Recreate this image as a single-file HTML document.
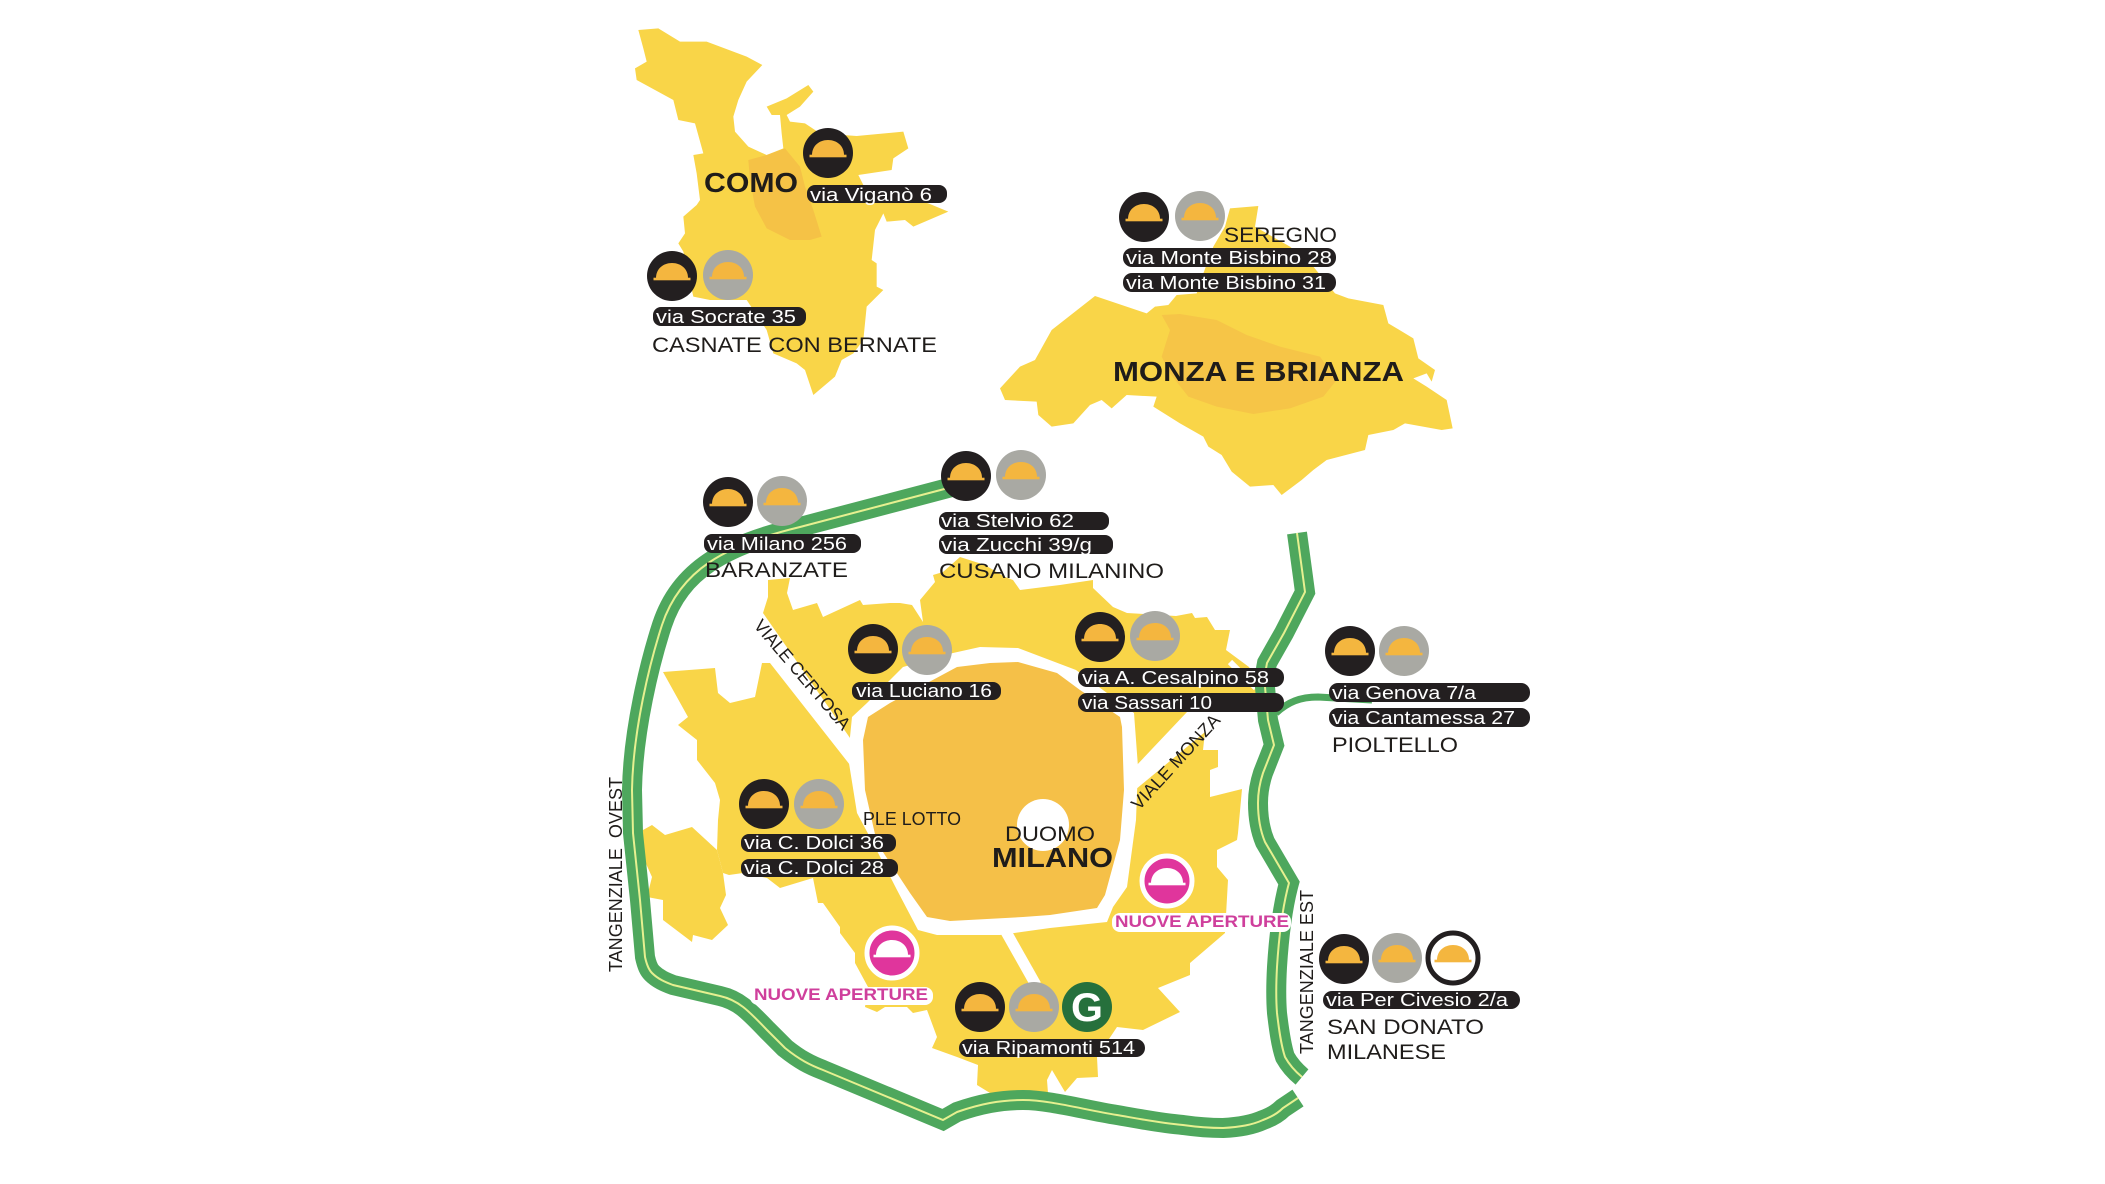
<!DOCTYPE html>
<html><head><meta charset="utf-8"><style>
html,body{margin:0;padding:0;background:#fff;width:2105px;height:1184px;overflow:hidden}
svg{display:block}
text{font-family:"Liberation Sans",sans-serif;fill:#1f1c1a}
.p{fill:#fff;font-size:18px}
.l{font-size:21px}
.b{font-size:28px;font-weight:bold}
.s{font-size:18px}
.n{font-size:17px;font-weight:bold;fill:#cf3f9c}
</style></head><body>
<svg width="2105" height="1184" viewBox="0 0 2105 1184" xmlns="http://www.w3.org/2000/svg">
<defs>
<g id="dome"><path d="M-16,2C-16,-7 -9,-13 0,-13C9,-13 16,-7 16,2Z"/><rect x="-18.5" y="1.7" width="37" height="2.6"/></g>
<g id="k"><circle r="25" fill="#231f20"/><use href="#dome" fill="#f4b63f"/></g>
<g id="g"><circle r="25" fill="#a9a9a3"/><use href="#dome" fill="#f4b63f"/></g>
<g id="m"><circle r="25" fill="#e0359c" stroke="#fff" stroke-width="5"/><use href="#dome" fill="#fff"/></g>
</defs>

<!-- Como -->
<g transform="translate(600,0) scale(.33333)">
<polygon fill="#f9d548" points="115,90 175,85 240,125 320,125 440,170 487,195 440,245 415,300 400,350 405,395 445,440 500,465 550,445 545,400 540,345 515,345 500,320 560,295 625,255 640,275 600,320 560,345 570,365 615,370 660,400 770,408 910,395 925,445 880,475 875,510 775,525 790,555 985,610 1045,635 940,680 915,660 860,665 850,640 825,690 815,780 830,790 830,860 850,870 800,920 790,1020 760,1060 725,1080 705,1130 640,1185 615,1110 590,1090 520,1060 500,990 440,900 330,900 280,890 250,755 235,730 255,700 250,650 290,615 300,600 290,520 280,465 310,460 285,370 235,360 220,300 110,240 105,205 140,185 130,145"/>
<polygon fill="#f5c246" points="445,480 500,465 555,445 600,500 615,560 640,630 665,710 630,720 570,720 500,685 465,620 450,540"/>
</g>

<!-- Monza -->
<g transform="translate(980,160) scale(.33333)">
<polygon fill="#f9d548" points="60,685 120,620 165,600 215,510 345,408 500,460 525,440 565,435 590,405 650,400 670,340 700,260 735,200 750,145 835,138 825,200 930,260 1000,320 1065,400 1105,415 1210,435 1225,490 1300,535 1315,595 1365,630 1355,665 1340,640 1300,655 1340,680 1400,720 1418,805 1385,810 1275,790 1240,810 1165,825 1155,870 1040,900 1000,930 965,960 905,1005 880,975 810,980 755,935 725,885 685,860 670,830 600,790 520,740 530,710 440,705 395,745 365,720 330,735 280,790 215,800 175,765 170,725 75,720"/>
<polygon fill="#f6c547" points="545,465 600,462 710,480 800,525 900,560 1020,590 1070,660 1030,710 930,745 820,762 710,740 625,710 570,640 545,590 570,510"/>
</g>

<!-- Milano yellow -->
<polygon fill="#f9d548" points="763,613 768,597 768,580 790,578 787,593 793,610 817,603 823,617 860,600 863,605 890,603 900,603 912,605 923,622 920,600 935,582 933,575 943,572 960,557 985,565 1005,577 1013,580 1020,590 1060,585 1093,580 1093,588 1113,607 1127,613 1176,616 1192,613 1195,618 1207,617 1215,630 1230,630 1226,650 1249,667 1262,690 1270,712 1187,712 1135,767 1136,790 1000,800 850,738"/>
<polygon fill="#f9d548" points="663,672 715,668 718,693 730,703 755,697 762,663 770,663 850,765 1000,800 1130,795 1135,790 1205,732 1203,750 1218,750 1218,767 1210,770 1210,797 1242,789 1238,833 1237,840 1217,850 1217,867 1228,880 1225,933 1190,963 1190,975 1158,988 1180,1012 1143,1030 1117,1027 1097,1057 1098,1077 1077,1078 1065,1092 1052,1070 1047,1080 1048,1093 990,1093 977,1085 978,1065 957,1057 932,1048 937,1037 927,1010 913,1013 907,1007 885,1007 877,1012 865,1007 868,987 855,963 855,953 840,933 840,927 823,903 818,903 813,878 780,888 767,878 743,873 729,875 723,873 717,850 718,820 720,800 715,783 697,760 697,740 678,725 688,717"/>
<polygon fill="#f9d548" points="643,830 652,825 665,835 692,827 717,850 723,873 726,895 720,908 728,925 712,940 693,935 692,942 663,920 663,900 647,897 652,877 643,857"/>

<!-- ring + city -->
<polygon fill="#fff" points="852,717 867,703 903,667 953,653 980,647 1018,648 1076,670 1134,713 1138,767 1136,820 1127,887 1113,907 1107,922 1050,928 1000,935 937,935 918,930 897,890 873,843 857,813 848,757"/>
<polygon fill="#f5c048" points="868,717 890,703 957,667 990,663 1018,662 1057,673 1080,690 1120,717 1122,727 1124,790 1120,840 1105,895 1097,908 1050,915 1023,917 950,921 927,917 910,893 877,843 865,790 863,740"/>
<circle cx="1043" cy="825" r="26" fill="#fff"/>
<path d="M1005,930L1036,985" stroke="#fff" stroke-width="11" fill="none"/>
<path d="M1230,662L1256,688" stroke="#fff" stroke-width="6" fill="none"/>

<!-- highway -->
<g fill="none">
<path d="M1276,713C1288,702 1300,697 1318,697L1372,700" stroke="#4ea75d" stroke-width="7"/>
<path d="M952,487L800,527C725,545 680,570 662,625C650,662 633,730 632,790L633,833L640,900L645,957C647,966 649,970 652,973C658,979 665,982 673,985L720,996C738,1000 748,1010 767,1030L785,1048C800,1060 810,1065 823,1070L943,1120L957,1112C980,1104 1000,1100 1023,1100C1050,1100 1085,1110 1117,1115C1140,1119 1160,1123 1183,1125C1197,1127 1210,1128 1223,1128C1240,1127 1252,1125 1263,1120C1274,1116 1280,1111 1283,1108L1298,1098" stroke="#4ea75d" stroke-width="20"/>
<path d="M952,487L800,527C725,545 680,570 662,625C650,662 633,730 632,790L633,833L640,900L645,957C647,966 649,970 652,973C658,979 665,982 673,985L720,996C738,1000 748,1010 767,1030L785,1048C800,1060 810,1065 823,1070L943,1120L957,1112C980,1104 1000,1100 1023,1100C1050,1100 1085,1110 1117,1115C1140,1119 1160,1123 1183,1125C1197,1127 1210,1128 1223,1128C1240,1127 1252,1125 1263,1120C1274,1116 1280,1111 1283,1108L1298,1098" stroke="#e6f090" stroke-width="2"/>
<path d="M1297,533L1303,577L1305,592L1284,633L1267,663C1265,672 1265,680 1265,687L1268,720L1274,745L1263,773C1259,785 1258,795 1258,803C1258,815 1260,830 1265,842L1289,883C1283,905 1279,935 1277,967C1276,985 1276,1000 1277,1013C1279,1030 1281,1045 1285,1057C1290,1066 1296,1072 1302,1077" stroke="#4ea75d" stroke-width="20"/>
<path d="M1297,533L1303,577L1305,592L1284,633L1267,663C1265,672 1265,680 1265,687L1268,720L1274,745L1263,773C1259,785 1258,795 1258,803C1258,815 1260,830 1265,842L1289,883C1283,905 1279,935 1277,967C1276,985 1276,1000 1277,1013C1279,1030 1281,1045 1285,1057C1290,1066 1296,1072 1302,1077" stroke="#e6f090" stroke-width="2"/>
</g>

<!-- pills -->
<g fill="#231f20">
<rect x="807" y="185" width="140" height="18" rx="8"/>
<rect x="653" y="307" width="153" height="19" rx="8"/>
<rect x="1123" y="248" width="213" height="19" rx="9"/>
<rect x="1123" y="273" width="213" height="19" rx="9"/>
<rect x="939" y="512" width="170" height="18" rx="8"/>
<rect x="939" y="535" width="174" height="19" rx="8"/>
<rect x="704" y="534" width="157" height="19" rx="8"/>
<rect x="852" y="682" width="149" height="18" rx="8"/>
<rect x="1078" y="668" width="206" height="19" rx="9"/>
<rect x="1078" y="693" width="206" height="19" rx="9"/>
<rect x="1329" y="683" width="201" height="19" rx="9"/>
<rect x="1329" y="708" width="201" height="19" rx="9"/>
<rect x="741" y="834" width="155" height="18" rx="8"/>
<rect x="741" y="859" width="157" height="18" rx="8"/>
<rect x="959" y="1039" width="186" height="18" rx="9"/>
<rect x="1323" y="991" width="197" height="18" rx="9"/>
</g>
<rect x="750" y="987" width="183" height="18" rx="8" fill="#fff"/>
<rect x="1112" y="913" width="179" height="19" rx="8" fill="#fff"/>

<!-- icons -->
<use href="#k" x="828" y="153"/>
<use href="#k" x="672" y="276"/><use href="#g" x="728" y="275"/>
<use href="#k" x="1144" y="217"/><use href="#g" x="1200" y="216"/>
<use href="#k" x="966" y="476"/><use href="#g" x="1021" y="475"/>
<use href="#k" x="728" y="502"/><use href="#g" x="782" y="501"/>
<use href="#k" x="873" y="649"/><use href="#g" x="927" y="650"/>
<use href="#k" x="1100" y="637"/><use href="#g" x="1155" y="636"/>
<use href="#k" x="1350" y="651"/><use href="#g" x="1404" y="651"/>
<use href="#k" x="764" y="804"/><use href="#g" x="819" y="804"/>
<use href="#k" x="980" y="1007"/><use href="#g" x="1034" y="1007"/>
<circle cx="1087" cy="1007" r="25" fill="#26703c"/>
<text x="1071" y="1021" font-size="40" font-weight="bold" textLength="32" lengthAdjust="spacingAndGlyphs" style="fill:#fff">G</text>
<use href="#k" x="1344" y="959"/><use href="#g" x="1397" y="958"/>
<circle cx="1453" cy="958" r="25" fill="#fff" stroke="#231f20" stroke-width="5"/><use href="#dome" x="1453" y="958" fill="#f4b63f"/>
<use href="#m" x="892" y="953"/><use href="#m" x="1167" y="881"/>

<!-- pill text -->
<text class="p" x="810" y="201" textLength="122" lengthAdjust="spacingAndGlyphs">via Viganò 6</text>
<text class="p" x="656" y="323" textLength="140" lengthAdjust="spacingAndGlyphs">via Socrate 35</text>
<text class="p" x="1126" y="264" textLength="206" lengthAdjust="spacingAndGlyphs">via Monte Bisbino 28</text>
<text class="p" x="1126" y="289" textLength="200" lengthAdjust="spacingAndGlyphs">via Monte Bisbino 31</text>
<text class="p" x="941" y="527" textLength="133" lengthAdjust="spacingAndGlyphs">via Stelvio 62</text>
<text class="p" x="941" y="551" textLength="151" lengthAdjust="spacingAndGlyphs">via Zucchi 39/g</text>
<text class="p" x="707" y="550" textLength="140" lengthAdjust="spacingAndGlyphs">via Milano 256</text>
<text class="p" x="856" y="697" textLength="136" lengthAdjust="spacingAndGlyphs">via Luciano 16</text>
<text class="p" x="1082" y="684" textLength="187" lengthAdjust="spacingAndGlyphs">via A. Cesalpino 58</text>
<text class="p" x="1082" y="709" textLength="130" lengthAdjust="spacingAndGlyphs">via Sassari 10</text>
<text class="p" x="1332" y="699" textLength="144" lengthAdjust="spacingAndGlyphs">via Genova 7/a</text>
<text class="p" x="1332" y="724" textLength="183" lengthAdjust="spacingAndGlyphs">via Cantamessa 27</text>
<text class="p" x="744" y="849" textLength="140" lengthAdjust="spacingAndGlyphs">via C. Dolci 36</text>
<text class="p" x="744" y="874" textLength="140" lengthAdjust="spacingAndGlyphs">via C. Dolci 28</text>
<text class="p" x="962" y="1054" textLength="173" lengthAdjust="spacingAndGlyphs">via Ripamonti 514</text>
<text class="p" x="1326" y="1006" textLength="182" lengthAdjust="spacingAndGlyphs">via Per Civesio 2/a</text>

<!-- labels -->
<text class="b" x="704" y="192" textLength="94" lengthAdjust="spacingAndGlyphs">COMO</text>
<text class="l" x="652" y="352" textLength="285" lengthAdjust="spacingAndGlyphs">CASNATE CON BERNATE</text>
<text class="l" x="1224" y="242" textLength="113" lengthAdjust="spacingAndGlyphs">SEREGNO</text>
<text class="b" x="1113" y="381" textLength="291" lengthAdjust="spacingAndGlyphs">MONZA E BRIANZA</text>
<text class="l" x="939" y="578" textLength="225" lengthAdjust="spacingAndGlyphs">CUSANO MILANINO</text>
<text class="l" x="705" y="577" textLength="143" lengthAdjust="spacingAndGlyphs">BARANZATE</text>
<text class="l" x="1332" y="752" textLength="126" lengthAdjust="spacingAndGlyphs">PIOLTELLO</text>
<text class="l" x="1327" y="1034" textLength="157" lengthAdjust="spacingAndGlyphs">SAN DONATO</text>
<text class="l" x="1327" y="1059" textLength="119" lengthAdjust="spacingAndGlyphs">MILANESE</text>
<text class="l" x="1005" y="841" textLength="90" lengthAdjust="spacingAndGlyphs">DUOMO</text>
<text class="b" x="992" y="867" font-size="27" textLength="121" lengthAdjust="spacingAndGlyphs">MILANO</text>
<text class="s" x="863" y="825" textLength="98" lengthAdjust="spacingAndGlyphs">PLE LOTTO</text>
<text class="s" transform="translate(753,626) rotate(49.7)" textLength="138" lengthAdjust="spacingAndGlyphs">VIALE CERTOSA</text>
<text class="s" transform="translate(1139,811) rotate(-47.6)" textLength="122" lengthAdjust="spacingAndGlyphs">VIALE MONZA</text>
<text class="s" transform="translate(622,972) rotate(-90)" textLength="195" lengthAdjust="spacing" xml:space="preserve">TANGENZIALE  OVEST</text>
<text class="s" transform="translate(1313,1054) rotate(-90)" textLength="164" lengthAdjust="spacingAndGlyphs">TANGENZIALE EST</text>
<text class="n" x="754" y="1000" textLength="174" lengthAdjust="spacingAndGlyphs">NUOVE APERTURE</text>
<text class="n" x="1115" y="927" textLength="174" lengthAdjust="spacingAndGlyphs">NUOVE APERTURE</text>
</svg>
</body></html>
